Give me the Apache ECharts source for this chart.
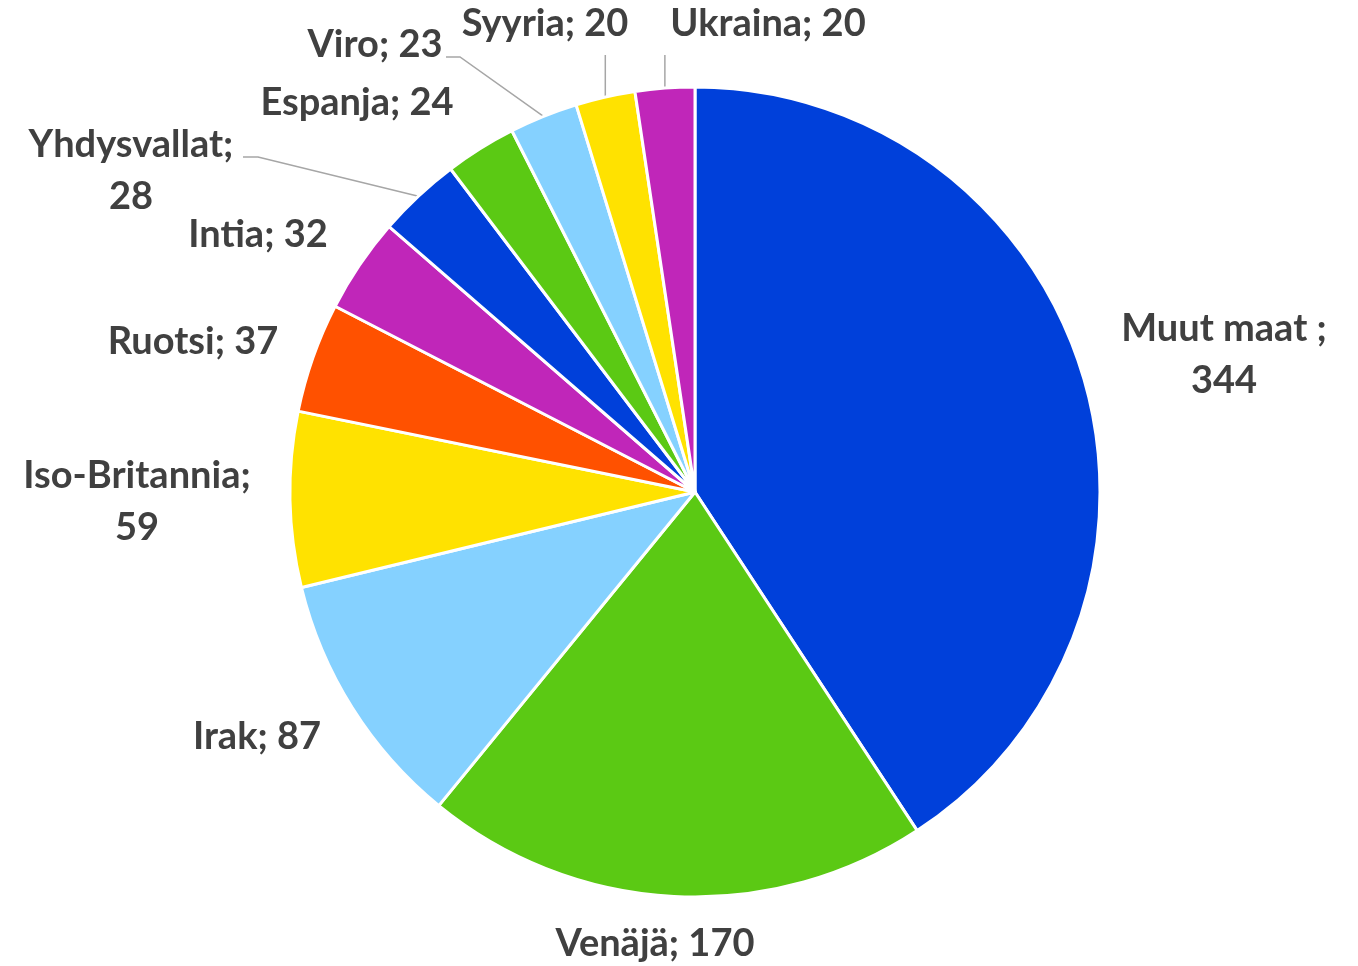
<!DOCTYPE html>
<html>
<head>
<meta charset="utf-8">
<script src="https://cdn.jsdelivr.net/npm/echarts@6/dist/echarts.min.js"></script>
<style>
html,body{margin:0;padding:0;background:#fff;}
#main{width:1358px;height:966px;}
</style>
</head>
<body>
<div id="main"></div>
<script>
const categories = ['Muut maat ', 'Venäjä', 'Irak', 'Iso-Britannia', 'Ruotsi', 'Intia', 'Yhdysvallat', 'Espanja', 'Viro', 'Syyria', 'Ukraina'];
const values = [344, 170, 87, 59, 37, 32, 28, 24, 23, 20, 20];
const colors = ['#0040DA', '#5BC914', '#85D1FF', '#FFE200', '#FF5100', '#C026B9', '#0040DA', '#5BC914', '#85D1FF', '#FFE200', '#C026B9'];

// label layout (annotation placement only)
const wrapped = ['Muut maat ', 'Iso-Britannia', 'Yhdysvallat'];
const labelPos = {
  'Muut maat ': [1224, 355],
  'Venäjä': [655, 944],
  'Irak': [257, 737],
  'Iso-Britannia': [137, 502],
  'Ruotsi': [193, 342],
  'Intia': [258, 235],
  'Yhdysvallat': [131, 171],
  'Espanja': [357, 103],
  'Viro': [375, 45],
  'Syyria': [545, 24],
  'Ukraina': [768, 24]
};
const leaderBends = {
  'Yhdysvallat': [[258, 157], [243, 157]],
  'Viro': [[460, 57], [446, 57]],
  'Syyria': 'up',
  'Ukraina': 'up'
};

const chart = echarts.init(document.getElementById('main'), null, {renderer: 'canvas'});
const data = categories.map((c, i) => ({
  name: c,
  value: values[i],
  itemStyle: {color: colors[i]},
  labelLine: {show: !!leaderBends[c]}
}));

chart.setOption({
  animation: false,
  backgroundColor: '#ffffff',
  series: [{
    type: 'pie',
    center: [695, 492],
    radius: [0, 405],
    startAngle: 90,
    clockwise: true,
    avoidLabelOverlap: false,
    data: data,
    itemStyle: {borderColor: '#ffffff', borderWidth: 3},
    label: {
      show: true,
      position: 'outside',
      formatter: p => p.name + ';' + (wrapped.includes(p.name) ? '\n' : ' ') + p.value,
      color: '#404040',
      fontFamily: 'Lato',
      fontWeight: 'bold',
      fontSize: 38,
      lineHeight: 52,
      align: 'center'
    },
    labelLine: {
      show: false,
      length: 20,
      length2: 10,
      lineStyle: {color: '#A6A6A6', width: 1.5}
    },
    labelLayout: function (params) {
      const name = categories[params.dataIndex];
      const pos = labelPos[name];
      const out = {x: pos[0], y: pos[1], align: 'center', verticalAlign: 'middle'};
      const bend = leaderBends[name];
      if (bend && params.labelLinePoints) {
        const start = params.labelLinePoints[0];
        if (bend === 'up') {
          out.labelLinePoints = [start, [start[0], 55], [start[0], 55]];
        } else {
          out.labelLinePoints = [start, bend[0], bend[1]];
        }
      }
      return out;
    }
  }]
});
</script>
</body>
</html>
